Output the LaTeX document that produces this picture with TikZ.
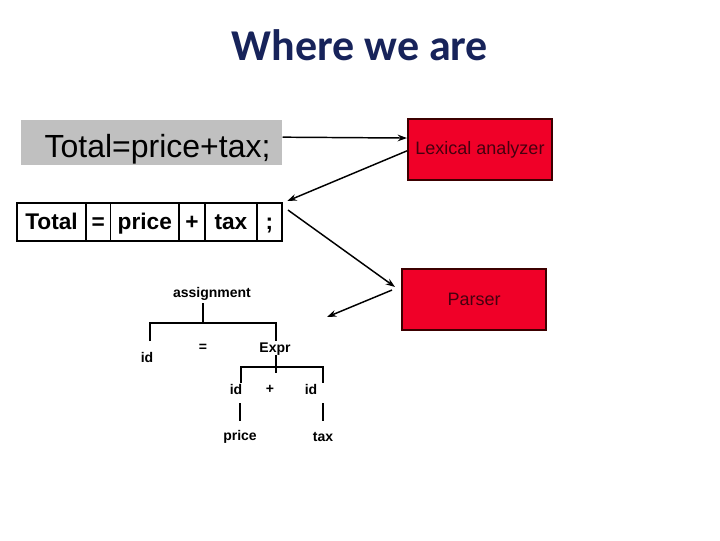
\documentclass[tikz,border=0pt]{standalone}
\usepackage{fontspec}
\setmainfont{Liberation Sans}
\newfontfamily\titlefont{Carlito}
\usetikzlibrary{positioning,arrows.meta}

\definecolor{titleblue}{RGB}{23,35,90}
\definecolor{phasered}{RGB}{240,0,40}
\definecolor{phaseedge}{RGB}{60,0,0}
\definecolor{phasetext}{RGB}{70,0,15}
\definecolor{srcgray}{RGB}{192,192,192}

\tikzset{every picture/.style={line width=0.75pt}}
\tikzset{
  phase/.style={draw=phaseedge, fill=phasered, line width=1.5pt, text=phasetext,
    font=\fontsize{13.5}{16}\selectfont, minimum width=108pt, minimum height=45.75pt, inner sep=0pt},
  cell/.style={draw, line width=1pt, outer sep=0pt, inner sep=0pt, text height=19.5pt, text depth=9pt,
    font=\bfseries\fontsize{17}{20}\selectfont},
  tnode/.style={font=\bfseries\fontsize{10.5}{12}\selectfont, inner sep=0.75pt},
  flow/.style={-{Stealth[length=7pt,width=5pt]}, line width=1.1pt},
  branch/.style={line width=1.6pt},
}

\begin{document}
\begin{tikzpicture}[x=0.75pt,y=0.75pt,yscale=-1,xscale=1]
\useasboundingbox (0,0) rectangle (720,540);

% Title
\node[anchor=base, text=titleblue, font=\titlefont\bfseries\fontsize{33}{38}\selectfont] (title) at (360,60) {Where we are};

% Source line
\node[fill=srcgray, minimum width=195.75pt, minimum height=33.75pt, inner sep=0pt] (src) at (151.5,142.5) {};
\node[anchor=base, inner sep=0pt, font=\fontsize{24}{28}\selectfont] (srctext) at (157.5,157) {Total=price+tax;};

% Token stream
\node[cell, minimum width=51.75pt, anchor=west] (tok1) at (17,222) {Total};
\node[cell, minimum width=18.5pt, right=0pt of tok1] (tok2) {=};
\node[cell, minimum width=51.2pt, right=0pt of tok2] (tok3) {price};
\node[cell, minimum width=19.5pt, right=0pt of tok3] (tok4) {+};
\node[cell, minimum width=39pt, right=0pt of tok4] (tok5) {tax};
\node[cell, minimum width=18.75pt, right=0pt of tok5] (tok6) {;};

% Phases
\node[phase] (lex) at (480,149.5) {\raisebox{-2pt}{Lexical analyzer}};
\node[phase] (parser) at (474,299.5) {Parser};

% Arrows
\draw[flow] ([yshift=-4pt]src.east) -- ([yshift=-8.6pt]lex.west);
\draw[flow] ([yshift=1pt]lex.west) -- ([xshift=4pt,yshift=-1.5pt]tok6.north east);
\draw[flow] ([xshift=4.5pt,yshift=5.25pt]tok6.north east) -- ([xshift=-4.5pt,yshift=-9.4pt]parser.west);
\coordinate (treetip) at (327,317);
\draw[flow] ([xshift=-6.75pt,yshift=-7.1pt]parser.west) -- (treetip);

% Parse tree
\node[tnode] (asg) at (212,294) {assignment};
\node[tnode] (lid) at (147,357) {id};
\node[tnode] (eq) at (203,348) {=};
\node[tnode] (expr) at (275,349) {Expr};
\node[tnode] (id1) at (236,389) {id};
\node[tnode] (plus) at (270,389) {+};
\node[tnode] (id2) at (311,389) {id};
\node[tnode] (price) at (240,437) {price};
\node[tnode] (tax) at (323,437) {tax};

\coordinate (jasg) at (203,323);
\coordinate (jexpr) at (276,367);
\draw[branch] (203,303) -- (jasg);
\draw[branch] (150,341) |- (jasg) -| (276,341);
\draw[branch] (276,355) -- (276,373);
\draw[branch] (241,383) |- (jexpr) -| (323,383);
\draw[branch] (240,403) -- (240,421);
\draw[branch] (323,403) -- (323,421);

\end{tikzpicture}
\end{document}
